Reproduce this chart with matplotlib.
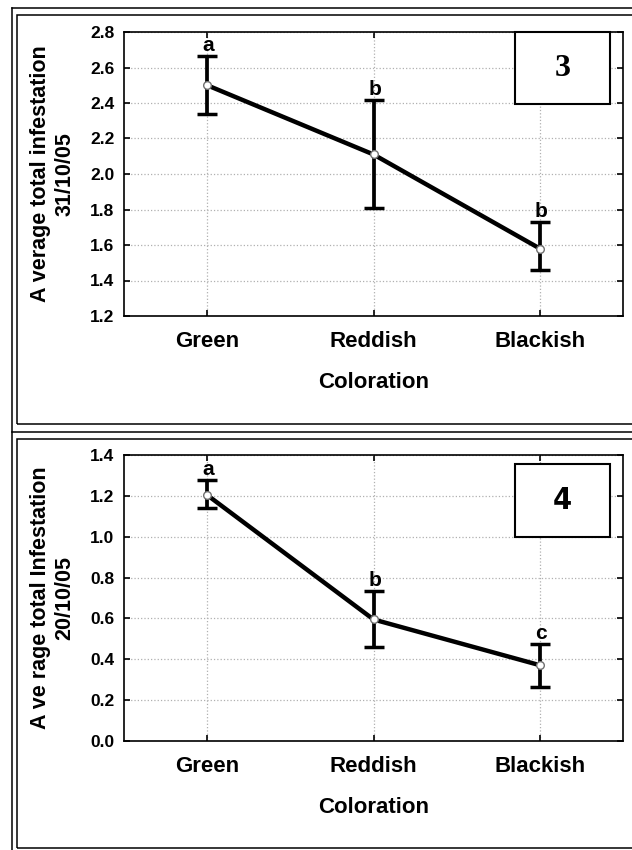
import matplotlib
matplotlib.use("Agg")
import matplotlib.pyplot as plt
from matplotlib.patches import Rectangle
from matplotlib.lines import Line2D

plt.rcParams['font.family'] = ['Liberation Sans', 'DejaVu Sans']
plt.rcParams['font.weight'] = 'bold'
plt.rcParams['axes.labelweight'] = 'bold'

# data
categories = ['Green', 'Reddish', 'Blackish']

mean_3110 = [2.50, 2.11, 1.58]
low_3110 = [2.336, 1.81, 1.457]
high_3110 = [2.665, 2.417, 1.732]
letters_3110 = ['a', 'b', 'b']
yticks_3110 = [1.2, 1.4, 1.6, 1.8, 2.0, 2.2, 2.4, 2.6, 2.8]

mean_2010 = [1.204, 0.595, 0.371]
low_2010 = [1.142, 0.461, 0.262]
high_2010 = [1.278, 0.734, 0.474]
letters_2010 = ['a', 'b', 'c']
yticks_2010 = [0.0, 0.2, 0.4, 0.6, 0.8, 1.0, 1.2, 1.4]

W, H = 632, 850
fig = plt.figure(figsize=(W / 100, H / 100), dpi=100)


def fx(x):
    return x / W


def fy(y):
    return 1 - y / H


# panel frames (pixel positions from the reference)
frame_kw = dict(color='black', lw=1.1, transform=fig.transFigure)
fig.add_artist(Line2D([fx(12), 1], [fy(8), fy(8)], **frame_kw))
fig.add_artist(Line2D([fx(12), fx(12)], [fy(8), fy(850)], **frame_kw))
fig.add_artist(Line2D([fx(12), 1], [fy(432), fy(432)], **frame_kw))
for top, bot in [(15, 424), (439, 848)]:
    fig.add_artist(Rectangle((fx(17), fy(bot)), 1.2, fy(top) - fy(bot),
                             fill=False, edgecolor='black', lw=1.1,
                             transform=fig.transFigure))


def panel(ax, means, lows, highs, letters, yticks, ylabel, tag, tagfont, tagbox):
    x = list(range(len(categories)))
    yerr = [[m - l for m, l in zip(means, lows)],
            [h - m for m, h in zip(means, highs)]]
    ax.errorbar(x, means, yerr=yerr, fmt='none', ecolor='black',
                elinewidth=2.7, capsize=7, capthick=2.5, zorder=3)
    ax.plot(x, means, color='black', lw=3.2, zorder=4)
    ax.plot(x, means, 'o', ms=5.5, mfc='white', mec='#707070', mew=1, zorder=5)
    for xi, h, t in zip(x, highs, letters):
        ax.annotate(t, (xi, h), xytext=(1, 0.5), textcoords='offset points',
                    ha='center', va='bottom', fontsize=15, fontweight='bold')

    ax.set_xlim(-0.5, 2.5)
    ax.set_ylim(yticks[0], yticks[-1])
    ax.set_yticks(yticks)
    ax.set_yticklabels([f'{v:.1f}' for v in yticks])
    ax.set_xticks(x)
    ax.set_xticklabels(categories, fontsize=16)
    ax.tick_params(axis='x', direction='in', length=4, width=1.2, pad=11, top=True)
    ax.tick_params(axis='y', direction='in', length=4, width=1.2, pad=7,
                   labelsize=12.5, right=True)
    ax.grid(True, color='#b0b0b0', linestyle=':', linewidth=0.9)
    ax.set_axisbelow(True)
    for s in ax.spines.values():
        s.set_linewidth(1.2)

    ax.set_xlabel('Coloration', fontsize=16, labelpad=14)
    ax.set_ylabel(ylabel, fontsize=15.5, multialignment='center')
    ax.yaxis.set_label_coords(-0.098, 0.5)

    bx, by, bw, bh = tagbox
    ax.add_patch(Rectangle((bx, by), bw, bh, transform=ax.transAxes,
                           facecolor='white', edgecolor='black', lw=1.5,
                           zorder=6, clip_on=False))
    ax.text(bx + bw / 2, by + bh / 2, tag, transform=ax.transAxes,
            ha='center', va='center', zorder=7, **tagfont)


ax1 = fig.add_axes([fx(124), fy(316), (623 - 124) / W, (316 - 32) / H])
panel(ax1, mean_3110, low_3110, high_3110, letters_3110, yticks_3110,
      'A verage total infestation\n31/10/05', '3',
      dict(fontsize=23, fontweight='bold', family='Liberation Serif'),
      (0.784, 0.746, 0.19, 0.254))

ax2 = fig.add_axes([fx(124), fy(741), (623 - 124) / W, (741 - 455) / H])
panel(ax2, mean_2010, low_2010, high_2010, letters_2010, yticks_2010,
      'A ve rage total Infestation\n20/10/05', '4',
      dict(fontsize=22, fontweight='bold', family='DejaVu Sans',
           fontstretch='condensed'),
      (0.784, 0.713, 0.19, 0.256))

fig.savefig('out.png', dpi=100)
